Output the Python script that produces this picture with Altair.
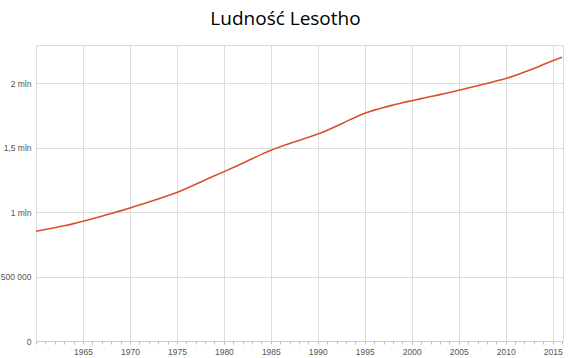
import altair as alt
import pandas as pd

years = list(range(1960, 2017))
population = [
    851000, 864000, 878000, 893000, 910000, 929000, 948000, 968000, 988000, 1009000,
    1031000, 1054000, 1077000, 1101000, 1126000, 1152000, 1183000, 1215000, 1248000, 1281000,
    1313000, 1345000, 1378000, 1413000, 1447000, 1479000, 1507000, 1532000, 1555000, 1579000,
    1604000, 1634000, 1667000, 1701000, 1735000, 1765000, 1790000, 1811000, 1829000, 1847000,
    1863000, 1879000, 1895000, 1910000, 1927000, 1944000, 1961000, 1979000, 1997000, 2016000,
    2036000, 2059000, 2085000, 2113000, 2143000, 2173000, 2200000,
]
y_ticks = [0, 500000, 1000000, 1500000, 2000000]

df = pd.DataFrame({"rok": years, "ludnosc": population})

FONT = "Open Sans"
AXFONT = "Liberation Sans"

chart = alt.Chart(df).mark_line(color="#d9502e", strokeWidth=1.6, interpolate="monotone").encode(
    x=alt.X(
        "rok:Q",
        scale=alt.Scale(domain=[1960, 2016.1], nice=False, zero=False),
        axis=alt.Axis(
            title=None,
            values=years,
            format="d",
            labelExpr="(datum.value % 5 === 0 && datum.value > 1960) ? datum.label : ''",
            gridOpacity={"condition": {"test": "datum.value % 5 === 0", "value": 1}, "value": 0},
            gridColor="#dddddd",
            domainColor="#cccccc",
            tickColor="#bbbbbb",
            tickSize=3,
            labelColor="#555555",
            labelFontSize=8.5,
            labelFont=AXFONT,
            labelPadding=3,
            labelOverlap=False,
            labelFlush=False,
        ),
    ),
    y=alt.Y(
        "ludnosc:Q",
        scale=alt.Scale(domain=[0, 2295000], nice=False),
        axis=alt.Axis(
            title=None,
            values=y_ticks,
            labelExpr="datum.value === 0 ? '0' : datum.value === 500000 ? '500 000' : datum.value === 1000000 ? '1 mln' : datum.value === 1500000 ? '1,5 mln' : '2 mln'",
            gridColor="#dddddd",
            domain=False,
            ticks=False,
            labelColor="#555555",
            labelFontSize=8.5,
            labelFont=AXFONT,
            labelPadding=5,
        ),
    ),
).properties(
    width=527,
    height=296,
    title=alt.TitleParams(
        "Ludność Lesotho",
        font=FONT,
        fontSize=19,
        fontWeight="normal",
        color="#000000",
        anchor="middle",
        offset=18,
        baseline="alphabetic",
        dx=-14,
        dy=17,
    ),
    autosize=alt.AutoSizeParams(type="none"),
    padding={"left": 36, "top": 45, "right": 7, "bottom": 17},
).configure_view(stroke=None).configure(background="white")

chart.save("out.html", embed_options={"renderer": "svg", "actions": False})
